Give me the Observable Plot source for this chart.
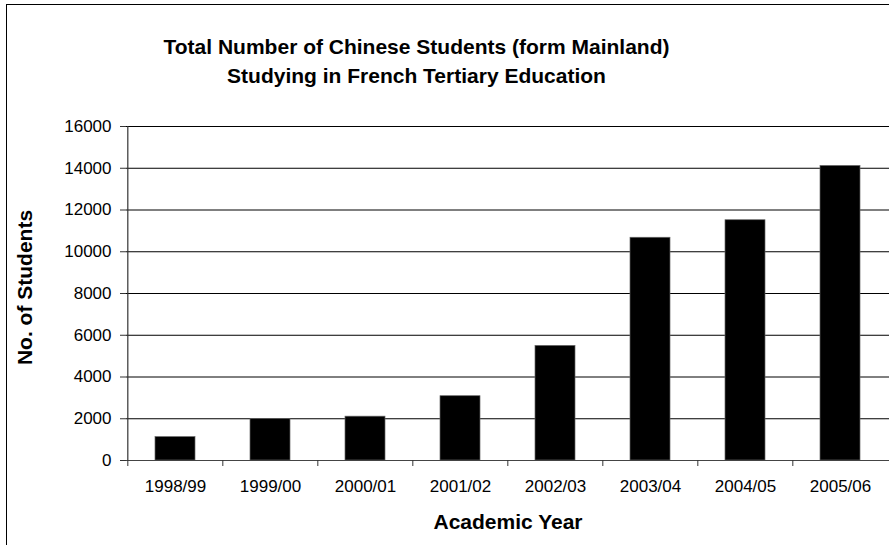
<!DOCTYPE html>
<html><head><meta charset="utf-8">
<script src="https://cdn.jsdelivr.net/npm/d3@7"></script>
<script src="https://cdn.jsdelivr.net/npm/@observablehq/plot@0.6"></script>
<style>
html,body{margin:0;padding:0;background:#fff;overflow:hidden;}
#wrap{position:relative;width:889px;height:545px;overflow:hidden;}
#wrap svg{display:block;}
#border{position:absolute;left:6px;top:4px;width:1000px;height:1000px;border:1.5px solid #000;pointer-events:none;}
</style></head><body>
<div id="wrap"><div id="border"></div></div>
<script>
const years = ["1998/99","1999/00","2000/01","2001/02","2002/03","2003/04","2004/05","2005/06"];
const students = [1120, 1980, 2100, 3080, 5490, 10670, 11510, 14110];
const yTicks = [0, 2000, 4000, 6000, 8000, 10000, 12000, 14000, 16000];
const titleText = "Total Number of Chinese Students (form Mainland)\nStudying in French Tertiary Education";
const xLabel = "Academic Year";
const yLabel = "No. of Students";

const data = years.map((year, i) => ({year, students: students[i]}));
const W = 889, H = 545, mL = 126, mR = 0, mT = 126, mB = 85;
const step = (W - mL - mR) / years.length;
const font = "'Liberation Sans', Arial, Helvetica, sans-serif";

const chart = Plot.plot({
  width: W, height: H,
  marginLeft: mL, marginRight: mR, marginTop: mT, marginBottom: mB,
  style: {fontFamily: font, background: "transparent", color: "#000", overflow: "visible"},
  x: {domain: years, paddingInner: 0.58, paddingOuter: 0.29, label: null, axis: null},
  y: {domain: [0, 16000], label: null, axis: null},
  marks: [
    Plot.ruleY(yTicks, {stroke: "#000", strokeWidth: 1}),
    Plot.barY(data, {x: "year", y: "students", fill: "#000", stroke: "#666", strokeWidth: 0.7}),
    Plot.ruleY([0], {stroke: "#444", strokeWidth: 1.2}),
    Plot.ruleX([years[0]], {dx: -step / 2, stroke: "#333", strokeWidth: 1.2}),
    Plot.axisY({ticks: yTicks, tickSize: 6, tickPadding: 9, fontSize: 17, tickFormat: d => String(d), label: null, stroke: "#333"}),
    Plot.axisX({tickSize: 0, tickPadding: 19, fontSize: 17, label: null}),
    Plot.axisX({tickSize: 6, tickFormat: () => "", dx: -step / 2, label: null, stroke: "#333"}),
    Plot.text([titleText], {frameAnchor: "top", lineAnchor: "top", dx: 416 - (mL + (W - mL - mR) / 2), dy: -93.5, fontSize: 21, fontWeight: "bold", lineHeight: 1.4, fill: "#000"}),
    Plot.text([xLabel], {frameAnchor: "bottom", lineAnchor: "top", dy: 54, fontSize: 21, fontWeight: "bold", fill: "#000"}),
    Plot.text([yLabel], {frameAnchor: "left", textAnchor: "middle", rotate: -90, dx: 25 - mL, dy: -6, fontSize: 21, fontWeight: "bold", fill: "#000"})
  ]
});
const wrap = document.getElementById("wrap");
wrap.insertBefore(chart, document.getElementById("border"));
</script>
</body></html>
